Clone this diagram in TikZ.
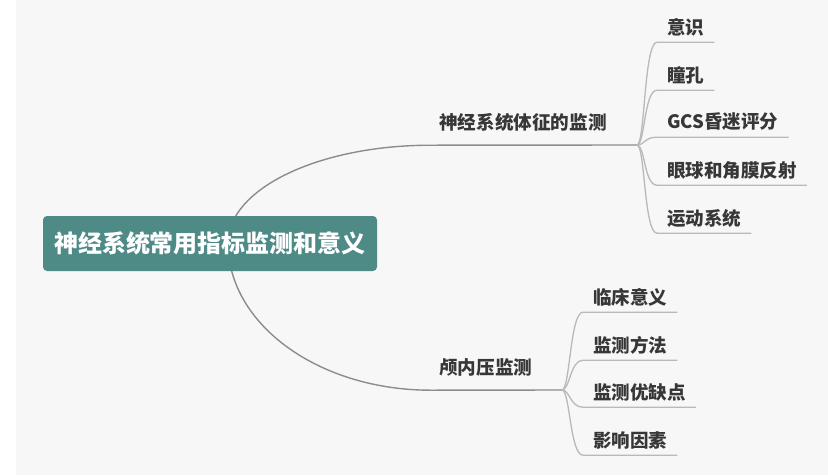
\documentclass[tikz,border=0pt]{standalone}
\usepackage{fontspec}
\newfontfamily\cjk{Noto Sans CJK SC}
\usetikzlibrary{positioning, backgrounds}
\definecolor{mapteal}{RGB}{78, 138, 134}
\definecolor{maptext}{RGB}{55, 55, 55}
\definecolor{mapline}{RGB}{140, 140, 140}
\definecolor{leafline}{RGB}{185, 185, 185}
\definecolor{mapbg}{RGB}{247, 247, 247}
\tikzset{
  rootbox/.style={fill=mapteal, rounded corners=4pt, text=white,
                  font=\cjk\bfseries\fontsize{24}{28}\selectfont,
                  minimum width=334pt, minimum height=55pt, inner sep=0pt},
  branch/.style={anchor=west, text=maptext,
                 font=\cjk\bfseries\fontsize{18.6}{22}\selectfont,
                 minimum height=46pt, inner xsep=8pt, inner ysep=0pt},
  leaf/.style={anchor=west, text=maptext,
               font=\cjk\bfseries\fontsize{18.5}{22}\selectfont,
               minimum height=30pt, inner xsep=10pt, inner ysep=0pt},
  trunk/.style={draw=mapline, line width=1.4pt},
  twig/.style={draw=leafline, line width=1.3pt},
}

\begin{document}
\begin{tikzpicture}[x=1pt, y=-1pt]
        \useasboundingbox (0,0) rectangle (828,475);

        % centre topic
        \node[rootbox] (root) at (210,243.5) {神经系统常用指标监测和意义};
        \coordinate (rhub) at (228,243);

        % main branches
        \node[branch] (vital) at (431,122) {神经系统体征的监测};
        \node[branch] (icp) at (431,367) {颅内压监测};
        \coordinate (vhub) at (637,145);
        \coordinate (ihub) at (562,390);

        % leaves
        \node[leaf] (yishi)    at (657,27)  {意识};
        \node[leaf] (tongkong) at (657,75)  {瞳孔};
        \node[leaf] (gcs)      at (657,122) {GCS昏迷评分};
        \node[leaf] (yanqiu)   at (657,170) {眼球和角膜反射};
        \node[leaf] (yundong)  at (657,218) {运动系统};
        \node[leaf] (linchuang) at (583,297) {临床意义};
        \node[leaf] (fangfa)    at (583,345) {监测方法};
        \node[leaf] (youque)    at (583,392) {监测优缺点};
        \node[leaf] (yinsu)     at (583,440) {影响因素};

        \begin{scope}[on background layer]
            \fill[white] (0,0) rectangle (828,475);
            \fill[mapbg] (16,0) rectangle (828,475);
            \draw[trunk] (rhub) .. controls +(0,-54) and +(-113,0) .. (vital.south west) -- (vhub);
            \draw[trunk] (rhub) .. controls +(0,81) and +(-113,0) .. (icp.south west) -- (ihub);
            \foreach \leaf in {yishi, tongkong, gcs, yanqiu, yundong}
                \draw[twig] (vhub) .. controls +(8,0) and +(-13,0) .. (\leaf.south west) -- (\leaf.south east);
            \foreach \leaf in {linchuang, fangfa, youque, yinsu}
                \draw[twig] (ihub) .. controls +(8,0) and +(-13,0) .. (\leaf.south west) -- (\leaf.south east);
        \end{scope}
\end{tikzpicture}
\end{document}
